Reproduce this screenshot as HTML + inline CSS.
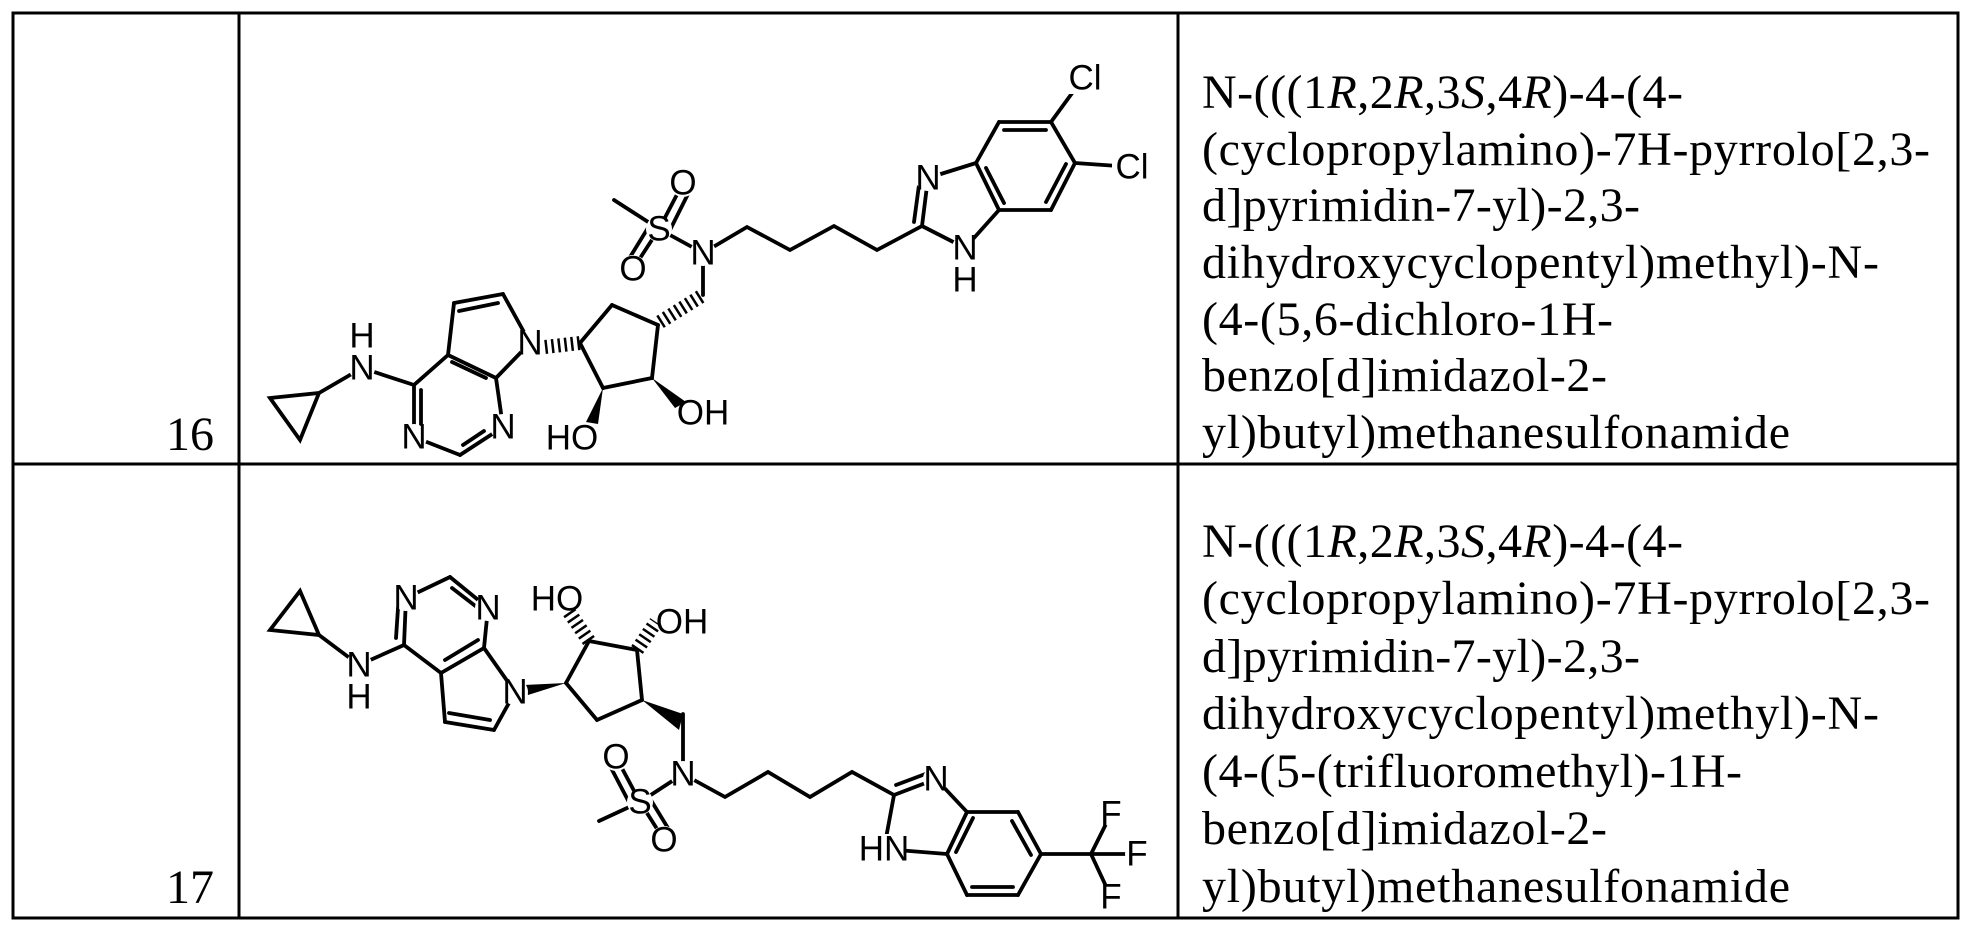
<!DOCTYPE html>
<html><head><meta charset="utf-8"><style>
html,body{margin:0;padding:0;background:#fff}
svg{display:block}
.b{stroke:#000;stroke-width:3.8;fill:none;stroke-linecap:round}
.h{stroke:#000;stroke-width:14;stroke-dasharray:2.5 4;fill:none}
.a{font-family:"Liberation Sans",sans-serif;font-size:35px;fill:#000;text-anchor:middle;dominant-baseline:central}
.w{fill:#fff;stroke:none}
.t{font-family:"Liberation Serif",serif;font-size:48px;fill:#000}
</style></head><body>
<svg width="1975" height="932" viewBox="0 0 1975 932" xmlns="http://www.w3.org/2000/svg">
<g stroke="#000" stroke-width="3" fill="none">
<rect x="13" y="13" width="1945" height="905"/>
<line x1="239" y1="13" x2="239" y2="918"/>
<line x1="1178" y1="13" x2="1178" y2="918"/>
<line x1="13" y1="464" x2="1958" y2="464"/>
</g>
<text class="t" x="166" y="450">16</text>
<text class="t" x="166" y="903">17</text>

<g class="t">
<text x="1202" y="108" textLength="481">N-(((1<tspan font-style="italic">R</tspan>,2<tspan font-style="italic">R</tspan>,3<tspan font-style="italic">S</tspan>,4<tspan font-style="italic">R</tspan>)-4-(4-</text>
<text x="1202" y="165" textLength="728">(cyclopropylamino)-7H-pyrrolo[2,3-</text>
<text x="1202" y="221" textLength="438">d]pyrimidin-7-yl)-2,3-</text>
<text x="1202" y="278" textLength="677">dihydroxycyclopentyl)methyl)-N-</text>
<text x="1202" y="335" textLength="411">(4-(5,6-dichloro-1H-</text>
<text x="1202" y="391" textLength="405">benzo[d]imidazol-2-</text>
<text x="1202" y="448" textLength="588">yl)butyl)methanesulfonamide</text>

<text x="1202" y="557" textLength="481">N-(((1<tspan font-style="italic">R</tspan>,2<tspan font-style="italic">R</tspan>,3<tspan font-style="italic">S</tspan>,4<tspan font-style="italic">R</tspan>)-4-(4-</text>
<text x="1202" y="614" textLength="728">(cyclopropylamino)-7H-pyrrolo[2,3-</text>
<text x="1202" y="672" textLength="438">d]pyrimidin-7-yl)-2,3-</text>
<text x="1202" y="729" textLength="677">dihydroxycyclopentyl)methyl)-N-</text>
<text x="1202" y="787" textLength="540">(4-(5-(trifluoromethyl)-1H-</text>
<text x="1202" y="844" textLength="405">benzo[d]imidazol-2-</text>
<text x="1202" y="902" textLength="588">yl)butyl)methanesulfonamide</text>
</g>

<!-- Molecule 16 -->
<g class="b">
<polygon points="270,398 319,393 300,440"/>
<line x1="319" y1="393" x2="362" y2="368"/>
<line x1="362" y1="368" x2="414" y2="385"/>
<line x1="414" y1="385" x2="414" y2="437"/><line x1="421" y1="390" x2="421" y2="425"/>
<line x1="414" y1="437" x2="460" y2="455"/>
<line x1="460" y1="455" x2="503" y2="427"/><line x1="463" y1="445" x2="484" y2="431"/>
<line x1="503" y1="427" x2="496" y2="378"/>
<line x1="496" y1="378" x2="448" y2="355"/><line x1="486" y1="378" x2="452" y2="362"/>
<line x1="448" y1="355" x2="414" y2="385"/>
<line x1="448" y1="355" x2="454" y2="303"/>
<line x1="454" y1="303" x2="503" y2="294"/><line x1="459" y1="311" x2="498" y2="303"/>
<line x1="503" y1="294" x2="530" y2="343"/>
<line x1="530" y1="343" x2="496" y2="378"/>
<line x1="580" y1="343" x2="612" y2="305"/>
<line x1="612" y1="305" x2="658" y2="325"/>
<line x1="658" y1="325" x2="652" y2="378"/>
<line x1="652" y1="378" x2="603" y2="388"/>
<line x1="603" y1="388" x2="580" y2="343"/>
<line x1="703" y1="295" x2="703" y2="253"/>
<line x1="703" y1="253" x2="659" y2="229"/>
<line x1="659" y1="229" x2="614" y2="200"/>
<line x1="659" y1="229" x2="683" y2="183"/><line x1="668" y1="234" x2="690" y2="190" />
<line x1="659" y1="229" x2="633" y2="269"/><line x1="651" y1="223" x2="627" y2="262"/>
<polyline points="703,253 747,227 790,250 834,226 877,250 922,226"/>
<line x1="922" y1="226" x2="928" y2="178"/><line x1="914" y1="222" x2="919" y2="185"/>
<line x1="922" y1="226" x2="965" y2="248"/>
<line x1="928" y1="178" x2="976" y2="163"/>
<line x1="965" y1="248" x2="999" y2="210"/>
<line x1="976" y1="163" x2="999" y2="122"/>
<line x1="999" y1="122" x2="1051" y2="122"/><line x1="1004" y1="130" x2="1046" y2="130"/>
<line x1="1051" y1="122" x2="1075" y2="163"/>
<line x1="1075" y1="163" x2="1051" y2="210"/><line x1="1066" y1="164" x2="1046" y2="202"/>
<line x1="1051" y1="210" x2="999" y2="210"/>
<line x1="999" y1="210" x2="976" y2="163"/><line x1="986" y1="168" x2="1004" y2="203"/>
<line x1="1051" y1="122" x2="1078" y2="85"/>
<line x1="1075" y1="163" x2="1118" y2="166"/>
</g>
<line class="h" x1="545" y1="347" x2="580" y2="343"/>
<line class="h" x1="660" y1="322" x2="703" y2="295"/>
<polygon points="652,378 675,408 686,402"/>
<polygon points="603,388 586,422 598,424"/>
<g class="w">
<circle cx="362" cy="368" r="13"/><circle cx="414" cy="437" r="13"/><circle cx="503" cy="427" r="13"/>
<circle cx="530" cy="343" r="13"/><circle cx="703" cy="253" r="13"/><circle cx="659" cy="229" r="13"/>
<circle cx="683" cy="183" r="14"/><circle cx="633" cy="269" r="14"/><circle cx="928" cy="178" r="13"/>
<circle cx="965" cy="248" r="13"/><rect x="1068" y="62" width="36" height="32"/><rect x="1112" y="150" width="36" height="34"/>
</g>
<g class="a">
<text x="362" y="368">N</text><text x="362" y="336">H</text>
<text x="414" y="437">N</text><text x="503" y="427">N</text>
<text x="530" y="343">N</text>
<text x="703" y="253">N</text><text x="659" y="229">S</text>
<text x="683" y="183">O</text><text x="633" y="269">O</text>
<text x="928" y="178">N</text><text x="965" y="248">N</text><text x="965" y="280">H</text>
<text x="1085" y="78">Cl</text><text x="1132" y="167">Cl</text>
<text x="703" y="413">OH</text><text x="572" y="438">HO</text>
</g>

<!-- Molecule 17 -->
<g class="b">
<polygon points="270,630 300,591 319,635"/>
<line x1="319" y1="635" x2="359" y2="665"/>
<line x1="359" y1="665" x2="404" y2="645"/>
<line x1="404" y1="645" x2="406" y2="598"/><line x1="396" y1="638" x2="398" y2="608"/>
<line x1="406" y1="598" x2="450" y2="577"/>
<line x1="450" y1="577" x2="488" y2="608"/><line x1="452" y1="588" x2="478" y2="608"/>
<line x1="488" y1="608" x2="484" y2="648"/>
<line x1="484" y1="648" x2="441" y2="673"/><line x1="478" y1="640" x2="445" y2="660"/>
<line x1="441" y1="673" x2="404" y2="645"/>
<line x1="441" y1="673" x2="445" y2="722"/>
<line x1="445" y1="722" x2="494" y2="730"/><line x1="449" y1="713" x2="490" y2="720"/>
<line x1="494" y1="730" x2="515" y2="692"/>
<line x1="515" y1="692" x2="484" y2="648"/>
<line x1="566" y1="683" x2="589" y2="641"/>
<line x1="589" y1="641" x2="637" y2="650"/>
<line x1="637" y1="650" x2="642" y2="700"/>
<line x1="642" y1="700" x2="597" y2="720"/>
<line x1="597" y1="720" x2="566" y2="683"/>
<line x1="683" y1="714" x2="683" y2="774"/>
<line x1="683" y1="774" x2="640" y2="802"/>
<line x1="640" y1="802" x2="599" y2="821"/>
<line x1="640" y1="802" x2="616" y2="757"/><line x1="631" y1="806" x2="609" y2="764"/>
<line x1="640" y1="802" x2="664" y2="840"/><line x1="649" y1="797" x2="671" y2="833"/>
<polyline points="683,774 725,797 768,772 810,797 852,772 894,795"/>
<line x1="894" y1="795" x2="936" y2="779"/><line x1="896" y1="785" x2="928" y2="773"/>
<line x1="894" y1="795" x2="884" y2="849"/>
<line x1="936" y1="779" x2="967" y2="812"/>
<line x1="884" y1="849" x2="947" y2="854"/>
<line x1="967" y1="812" x2="1018" y2="812"/>
<line x1="1018" y1="812" x2="1041" y2="854"/><line x1="1012" y1="821" x2="1031" y2="855"/>
<line x1="1041" y1="854" x2="1018" y2="895"/>
<line x1="1018" y1="895" x2="967" y2="895"/><line x1="1013" y1="887" x2="972" y2="887"/>
<line x1="967" y1="895" x2="947" y2="854"/>
<line x1="947" y1="854" x2="967" y2="812"/><line x1="956" y1="852" x2="973" y2="818"/>
<line x1="1041" y1="854" x2="1091" y2="854"/>
<line x1="1091" y1="854" x2="1111" y2="814"/>
<line x1="1091" y1="854" x2="1137" y2="854"/>
<line x1="1091" y1="854" x2="1111" y2="897"/>
</g>
<polygon points="566,683 528,695 524,685"/>
<polygon points="642,700 683,714 679,730"/>
<line class="h" x1="589" y1="641" x2="569" y2="612"/>
<line class="h" x1="637" y1="650" x2="656" y2="622"/>
<g class="w">
<circle cx="359" cy="665" r="13"/><circle cx="406" cy="598" r="13"/><circle cx="488" cy="608" r="13"/>
<circle cx="515" cy="692" r="13"/><circle cx="683" cy="774" r="13"/><circle cx="640" cy="802" r="13"/>
<circle cx="616" cy="757" r="14"/><circle cx="664" cy="840" r="14"/><circle cx="936" cy="779" r="13"/>
<rect x="862" y="834" width="44" height="30"/><circle cx="1111" cy="814" r="12"/><circle cx="1137" cy="854" r="12"/><circle cx="1111" cy="897" r="12"/>
</g>
<g class="a">
<text x="359" y="665">N</text><text x="359" y="697">H</text>
<text x="406" y="598">N</text><text x="488" y="608">N</text>
<text x="515" y="692">N</text>
<text x="683" y="774">N</text><text x="640" y="802">S</text>
<text x="616" y="757">O</text><text x="664" y="840">O</text>
<text x="936" y="779">N</text><text x="884" y="849">HN</text>
<text x="1111" y="814">F</text><text x="1137" y="854">F</text><text x="1111" y="897">F</text>
<text x="557" y="599">HO</text><text x="682" y="622">OH</text>
</g>
</svg>
</body></html>
